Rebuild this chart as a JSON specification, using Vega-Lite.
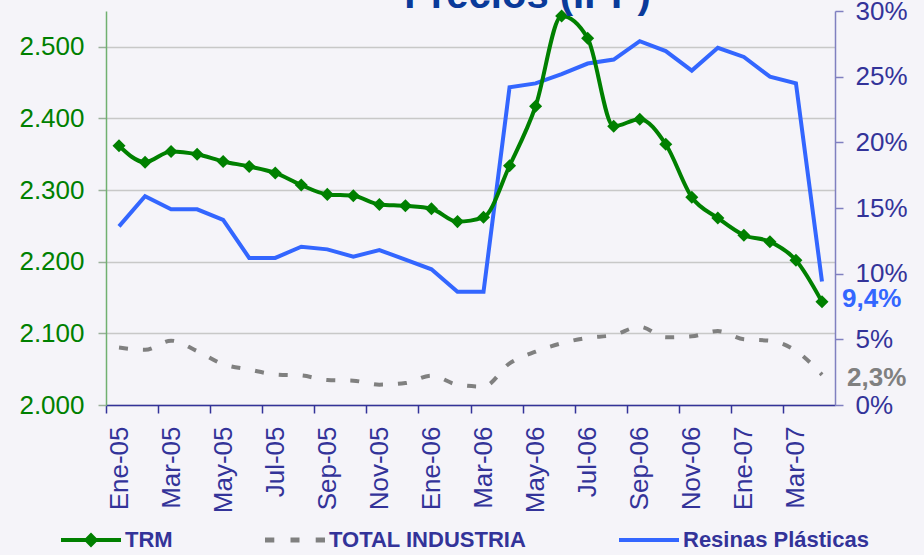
{
  "$schema": "https://vega.github.io/schema/vega-lite/v6.json",
  "width": 729,
  "height": 394,
  "autosize": {"type": "none"},
  "padding": {"left": 106, "top": 11, "right": 89, "bottom": 150},
  "background": "#f5f4f9",
  "config": {
    "locale": {"number": {"decimal": ",", "thousands": ".", "grouping": [3], "currency": ["$", ""]}},
    "view": {"stroke": null},
    "font": "Liberation Sans"
  },
  "title": {
    "text": "Precios (IPP)",
    "font": "Liberation Sans",
    "fontSize": 40,
    "fontWeight": "bold",
    "color": "#0a3a9a",
    "anchor": "middle",
    "frame": "group",
    "baseline": "alphabetic",
    "offset": -17,
    "dx": 57,
    "dy": 33
  },
  "data": {
    "values": [
      {"mes": "Ene-05", "serie": "TRM", "valor": 2362},
      {"mes": "Feb-05", "serie": "TRM", "valor": 2339},
      {"mes": "Mar-05", "serie": "TRM", "valor": 2354},
      {"mes": "Abr-05", "serie": "TRM", "valor": 2350},
      {"mes": "May-05", "serie": "TRM", "valor": 2340},
      {"mes": "Jun-05", "serie": "TRM", "valor": 2333},
      {"mes": "Jul-05", "serie": "TRM", "valor": 2324},
      {"mes": "Ago-05", "serie": "TRM", "valor": 2307},
      {"mes": "Sep-05", "serie": "TRM", "valor": 2294},
      {"mes": "Oct-05", "serie": "TRM", "valor": 2292},
      {"mes": "Nov-05", "serie": "TRM", "valor": 2280},
      {"mes": "Dic-05", "serie": "TRM", "valor": 2278},
      {"mes": "Ene-06", "serie": "TRM", "valor": 2274},
      {"mes": "Feb-06", "serie": "TRM", "valor": 2256},
      {"mes": "Mar-06", "serie": "TRM", "valor": 2262},
      {"mes": "Abr-06", "serie": "TRM", "valor": 2334},
      {"mes": "May-06", "serie": "TRM", "valor": 2417},
      {"mes": "Jun-06", "serie": "TRM", "valor": 2543},
      {"mes": "Jul-06", "serie": "TRM", "valor": 2512},
      {"mes": "Ago-06", "serie": "TRM", "valor": 2389},
      {"mes": "Sep-06", "serie": "TRM", "valor": 2399},
      {"mes": "Oct-06", "serie": "TRM", "valor": 2364},
      {"mes": "Nov-06", "serie": "TRM", "valor": 2290},
      {"mes": "Dic-06", "serie": "TRM", "valor": 2261},
      {"mes": "Ene-07", "serie": "TRM", "valor": 2237},
      {"mes": "Feb-07", "serie": "TRM", "valor": 2228},
      {"mes": "Mar-07", "serie": "TRM", "valor": 2202},
      {"mes": "Abr-07", "serie": "TRM", "valor": 2144},
      {"mes": "Ene-05", "serie": "Resinas Plásticas", "valor": 0.136},
      {"mes": "Feb-05", "serie": "Resinas Plásticas", "valor": 0.159},
      {"mes": "Mar-05", "serie": "Resinas Plásticas", "valor": 0.149},
      {"mes": "Abr-05", "serie": "Resinas Plásticas", "valor": 0.149},
      {"mes": "May-05", "serie": "Resinas Plásticas", "valor": 0.141},
      {"mes": "Jun-05", "serie": "Resinas Plásticas", "valor": 0.112},
      {"mes": "Jul-05", "serie": "Resinas Plásticas", "valor": 0.112},
      {"mes": "Ago-05", "serie": "Resinas Plásticas", "valor": 0.1205},
      {"mes": "Sep-05", "serie": "Resinas Plásticas", "valor": 0.1185},
      {"mes": "Oct-05", "serie": "Resinas Plásticas", "valor": 0.113},
      {"mes": "Nov-05", "serie": "Resinas Plásticas", "valor": 0.118},
      {"mes": "Dic-05", "serie": "Resinas Plásticas", "valor": 0.1107},
      {"mes": "Ene-06", "serie": "Resinas Plásticas", "valor": 0.1033},
      {"mes": "Feb-06", "serie": "Resinas Plásticas", "valor": 0.0863},
      {"mes": "Mar-06", "serie": "Resinas Plásticas", "valor": 0.0863},
      {"mes": "Abr-06", "serie": "Resinas Plásticas", "valor": 0.2419},
      {"mes": "May-06", "serie": "Resinas Plásticas", "valor": 0.2449},
      {"mes": "Jun-06", "serie": "Resinas Plásticas", "valor": 0.252},
      {"mes": "Jul-06", "serie": "Resinas Plásticas", "valor": 0.26},
      {"mes": "Ago-06", "serie": "Resinas Plásticas", "valor": 0.263},
      {"mes": "Sep-06", "serie": "Resinas Plásticas", "valor": 0.277},
      {"mes": "Oct-06", "serie": "Resinas Plásticas", "valor": 0.2695},
      {"mes": "Nov-06", "serie": "Resinas Plásticas", "valor": 0.2546},
      {"mes": "Dic-06", "serie": "Resinas Plásticas", "valor": 0.272},
      {"mes": "Ene-07", "serie": "Resinas Plásticas", "valor": 0.265},
      {"mes": "Feb-07", "serie": "Resinas Plásticas", "valor": 0.25},
      {"mes": "Mar-07", "serie": "Resinas Plásticas", "valor": 0.245},
      {"mes": "Abr-07", "serie": "Resinas Plásticas", "valor": 0.094},
      {"mes": "Ene-05", "serie": "TOTAL INDUSTRIA", "valor": 0.0437},
      {"mes": "Feb-05", "serie": "TOTAL INDUSTRIA", "valor": 0.042},
      {"mes": "Mar-05", "serie": "TOTAL INDUSTRIA", "valor": 0.049},
      {"mes": "Abr-05", "serie": "TOTAL INDUSTRIA", "valor": 0.041},
      {"mes": "May-05", "serie": "TOTAL INDUSTRIA", "valor": 0.031},
      {"mes": "Jun-05", "serie": "TOTAL INDUSTRIA", "valor": 0.027},
      {"mes": "Jul-05", "serie": "TOTAL INDUSTRIA", "valor": 0.0233},
      {"mes": "Ago-05", "serie": "TOTAL INDUSTRIA", "valor": 0.0225},
      {"mes": "Sep-05", "serie": "TOTAL INDUSTRIA", "valor": 0.019},
      {"mes": "Oct-05", "serie": "TOTAL INDUSTRIA", "valor": 0.0185},
      {"mes": "Nov-05", "serie": "TOTAL INDUSTRIA", "valor": 0.0155},
      {"mes": "Dic-05", "serie": "TOTAL INDUSTRIA", "valor": 0.0167},
      {"mes": "Ene-06", "serie": "TOTAL INDUSTRIA", "valor": 0.0223},
      {"mes": "Feb-06", "serie": "TOTAL INDUSTRIA", "valor": 0.0155},
      {"mes": "Mar-06", "serie": "TOTAL INDUSTRIA", "valor": 0.014},
      {"mes": "Abr-06", "serie": "TOTAL INDUSTRIA", "valor": 0.0317},
      {"mes": "May-06", "serie": "TOTAL INDUSTRIA", "valor": 0.0406},
      {"mes": "Jun-06", "serie": "TOTAL INDUSTRIA", "valor": 0.047},
      {"mes": "Jul-06", "serie": "TOTAL INDUSTRIA", "valor": 0.0512},
      {"mes": "Ago-06", "serie": "TOTAL INDUSTRIA", "valor": 0.0533},
      {"mes": "Sep-06", "serie": "TOTAL INDUSTRIA", "valor": 0.0596},
      {"mes": "Oct-06", "serie": "TOTAL INDUSTRIA", "valor": 0.0515},
      {"mes": "Nov-06", "serie": "TOTAL INDUSTRIA", "valor": 0.0523},
      {"mes": "Dic-06", "serie": "TOTAL INDUSTRIA", "valor": 0.0563},
      {"mes": "Ene-07", "serie": "TOTAL INDUSTRIA", "valor": 0.05},
      {"mes": "Feb-07", "serie": "TOTAL INDUSTRIA", "valor": 0.049},
      {"mes": "Mar-07", "serie": "TOTAL INDUSTRIA", "valor": 0.0413},
      {"mes": "Abr-07", "serie": "TOTAL INDUSTRIA", "valor": 0.023}
    ]
  },
  "encoding": {
    "x": {
      "field": "mes",
      "type": "ordinal",
      "sort": null,
      "scale": {
        "type": "point",
        "padding": 0.5,
        "domain": ["Ene-05", "Feb-05", "Mar-05", "Abr-05", "May-05", "Jun-05", "Jul-05", "Ago-05", "Sep-05", "Oct-05", "Nov-05", "Dic-05", "Ene-06", "Feb-06", "Mar-06", "Abr-06", "May-06", "Jun-06", "Jul-06", "Ago-06", "Sep-06", "Oct-06", "Nov-06", "Dic-06", "Ene-07", "Feb-07", "Mar-07", "Abr-07"]
      },
      "axis": {
        "title": null,
        "values": ["Ene-05", "Mar-05", "May-05", "Jul-05", "Sep-05", "Nov-05", "Ene-06", "Mar-06", "May-06", "Jul-06", "Sep-06", "Nov-06", "Ene-07", "Mar-07"],
        "tickOffset": -13,
        "labelOffset": 13,
        "labelAngle": 270,
        "labelAlign": "right",
        "labelBaseline": "middle",
        "labelFont": "Liberation Sans",
        "labelFontSize": 26,
        "labelColor": "#333399",
        "labelPadding": 13,
        "labelOverlap": false,
        "tickSize": 8,
        "tickColor": "#333399",
        "tickWidth": 1.5,
        "domainColor": "#333399",
        "domainWidth": 1.5,
        "grid": false
      }
    }
  },
  "layer": [
    {
      "encoding": {
        "y": {
          "field": "valor",
          "type": "quantitative",
          "scale": {"domain": [0, 0.3], "nice": false},
          "axis": {
            "orient": "right",
            "title": null,
            "values": [0, 0.05, 0.1, 0.15, 0.2, 0.25, 0.3],
            "format": ".0%",
            "labelFont": "Liberation Sans",
            "labelFontSize": 26,
            "labelColor": "#333399",
            "labelPadding": 12,
            "tickSize": 8,
            "tickColor": "#8080c0",
            "tickWidth": 1.5,
            "domainColor": "#8080c0",
            "domainWidth": 1.5,
            "grid": false
          }
        }
      },
      "layer": [
        {
          "transform": [{"filter": "datum.serie === 'TOTAL INDUSTRIA'"}],
          "mark": {"type": "line", "color": "#808080", "strokeWidth": 4, "strokeDash": [9, 15], "interpolate": "monotone"}
        },
        {
          "transform": [{"filter": "datum.serie === 'Resinas Plásticas'"}],
          "mark": {"type": "line", "color": "#3366ff", "strokeWidth": 4}
        },
        {
          "transform": [{"filter": "datum.serie === 'Resinas Plásticas' && datum.mes === 'Abr-07'"}],
          "mark": {"type": "text", "align": "left", "baseline": "middle", "dx": 20, "dy": 17, "font": "Liberation Sans", "fontSize": 26, "fontWeight": "bold", "color": "#3366ff"},
          "encoding": {"text": {"field": "valor", "type": "quantitative", "format": ".1%"}}
        },
        {
          "transform": [{"filter": "datum.serie === 'TOTAL INDUSTRIA' && datum.mes === 'Abr-07'"}],
          "mark": {"type": "text", "align": "left", "baseline": "middle", "dx": 25, "dy": 3, "font": "Liberation Sans", "fontSize": 26, "fontWeight": "bold", "color": "#808080"},
          "encoding": {"text": {"field": "valor", "type": "quantitative", "format": ".1%"}}
        }
      ]
    },
    {
      "transform": [{"filter": "datum.serie === 'TRM'"}],
      "encoding": {
        "y": {
          "field": "valor",
          "type": "quantitative",
          "scale": {"domain": [2000, 2550], "nice": false, "zero": false},
          "axis": {
            "orient": "left",
            "title": null,
            "values": [2000, 2100, 2200, 2300, 2400, 2500],
            "format": ",d",
            "labelFont": "Liberation Sans",
            "labelFontSize": 26,
            "labelColor": "#008000",
            "labelPadding": 14,
            "tickSize": 8,
            "tickColor": "#9ab09a",
            "tickWidth": 1.5,
            "domainColor": "#70b070",
            "domainWidth": 1.5,
            "grid": true,
            "gridColor": "#c8c8c8",
            "gridWidth": 1.5
          }
        }
      },
      "layer": [
        {"mark": {"type": "line", "color": "#008000", "strokeWidth": 4, "interpolate": "monotone"}},
        {"mark": {"type": "point", "shape": "diamond", "filled": true, "size": 170, "color": "#008000", "opacity": 1}}
      ]
    },
    {
      "transform": [{"filter": "false"}],
      "mark": {"type": "point", "filled": true, "opacity": 1, "strokeWidth": 0},
      "encoding": {
        "color": {
          "field": "serie",
          "type": "nominal",
          "scale": {"domain": ["TRM", "TOTAL INDUSTRIA", "Resinas Plásticas"], "range": ["#008000", "#808080", "#3366ff"]},
          "legend": {
            "orient": "none", "legendX": -45, "legendY": 499, "direction": "horizontal", "title": null,
            "labelFont": "Liberation Sans", "labelFontSize": 22, "labelFontWeight": "bold", "labelColor": "#333399",
            "symbolSize": 3600, "symbolStrokeWidth": 0, "columnPadding": 92, "labelOffset": 4, "padding": 0, "labelLimit": 400
          }
        },
        "shape": {
          "field": "serie",
          "type": "nominal",
          "scale": {
            "domain": ["TRM", "TOTAL INDUSTRIA", "Resinas Plásticas"],
            "range": [
              "M-1,-0.07L-0.18,-0.07L0,-0.25L0.18,-0.07L1,-0.07L1,0.07L0.18,0.07L0,0.25L-0.18,0.07L-1,0.07Z",
              "M-1,-0.08L-0.69,-0.08L-0.69,0.08L-1,0.08Z M-0.15,-0.08L0.15,-0.08L0.15,0.08L-0.15,0.08Z M0.69,-0.08L1,-0.08L1,0.08L0.69,0.08Z",
              "M-1,-0.07L1,-0.07L1,0.07L-1,0.07Z"
            ]
          },
          "legend": {
            "orient": "none", "legendX": -45, "legendY": 499, "direction": "horizontal", "title": null,
            "labelFont": "Liberation Sans", "labelFontSize": 22, "labelFontWeight": "bold", "labelColor": "#333399",
            "symbolSize": 3600, "symbolStrokeWidth": 0, "columnPadding": 92, "labelOffset": 4, "padding": 0, "labelLimit": 400
          }
        }
      }
    }
  ],
  "resolve": {"scale": {"y": "independent"}}
}
